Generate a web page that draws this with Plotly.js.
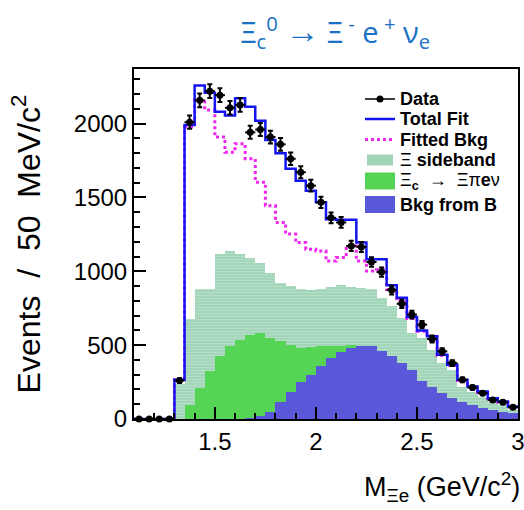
<!DOCTYPE html>
<html>
<head>
<meta charset="utf-8">
<script src="https://cdn.plot.ly/plotly-3.0.1.min.js"></script>
<style>html,body{margin:0;padding:0;background:#fff;}#chart{width:524px;height:510px;}</style>
</head>
<body>
<div id="chart"></div>
<script>
// Bin centers (50 MeV bins) in GeV/c^2
const binCenters = [1.125,1.175,1.225,1.275,1.325,1.375,1.425,1.475,1.525,1.575,
  1.625,1.675,1.725,1.775,1.825,1.875,1.925,1.975,2.025,2.075,
  2.125,2.175,2.225,2.275,2.325,2.375,2.425,2.475,2.525,2.575,
  2.625,2.675,2.725,2.775,2.825,2.875,2.925,2.975];

const dataCounts = [0,0,0,0,260,2010,2158,2220,2193,2107,
  2127,1941,1960,1909,1860,1762,1671,1580,1467,1362,
  1331,1172,1165,1063,995,873,780,707,639,542,
  458,379,265,213,175,129,114,80];

const totalFit = [0,0,0,0,265,1990,2258,2210,2080,2055,
  2172,2115,2020,1890,1800,1695,1614,1546,1467,1352,
  1349,1349,1195,1082,1082,905,821,690,600,560,
  435,367,265,220,186,141,118,84];

const fittedBkg = [0,0,0,0,265,1977,2160,2093,1909,1807,
  1864,1762,1603,1444,1331,1252,1195,1150,1138,1070,
  1093,1172,1070,1002,1010,877,798,680,595,555,
  430,362,260,215,180,137,113,80];

const xiSideband = [0,0,0,0,240,678,882,882,1116,1138,
  1116,1093,1059,991,923,900,877,875,880,895,
  905,895,889,877,821,764,685,583,549,469,
  379,333,220,186,152,118,95,61];

const xicXiPiEnu = [0,0,0,0,0,95,209,325,424,492,
  537,571,583,549,526,503,481,488,492,492,
  495,503,470,410,345,285,220,160,110,70,
  40,20,10,0,0,0,0,0];

const bkgFromB = [0,0,0,0,0,0,0,0,0,0,
  3,8,20,50,115,185,250,300,360,413,
  455,481,492,492,458,424,379,333,254,220,
  175,141,118,95,73,61,50,39];

const xTickVals = [1.5, 2, 2.5, 3];
const xTickText = ['1.5', '2', '2.5', '3'];
const yTickVals = [0, 500, 1000, 1500, 2000];
const yTickText = ['0', '500', '1000', '1500', '2000'];

const legendLabels = ['<b>Data</b>', '<b>Total Fit</b>', '<b>Fitted Bkg</b>',
  'Ξ <b>sideband</b>', 'Ξ<sub><b>c</b></sub>  →  Ξπ<b>e</b>ν', '<b>Bkg from B</b>'];

// colours
const C_SIDE = '#a3d6b9', C_GREEN = '#55d455', C_BLUE = '#5b57d9', C_FIT = '#1414f0', C_BKG = '#f026f0';

// step-line helpers (bin edges built from the centers)
const binW = binCenters[1] - binCenters[0];
function stepX(c) { const e = c.map(v => v - binW / 2); e.push(c[c.length - 1] + binW / 2); return e; }
function stepY(v) { return v.concat([v[v.length - 1]]); }

const FONT = 'Liberation Sans, Arial, Helvetica, sans-serif';
const W = 524, H = 510, M = { l: 134, r: 6, t: 69, b: 91 };
const PW = W - M.l - M.r, PH = H - M.t - M.b;
const px = v => (v - M.l) / PW;      // pixel -> paper x
const py = v => (H - M.b - v) / PH;  // pixel -> paper y

const traces = [
  {
    type: 'bar', name: legendLabels[3], x: binCenters, y: xiSideband, width: binW,
    marker: { color: C_SIDE, line: { width: 0 },
      pattern: { shape: '-', fillmode: 'overlay', fgcolor: '#cdeadb', size: 3, solidity: 0.3 } },
    showlegend: false, hoverinfo: 'skip'
  },
  {
    type: 'bar', name: legendLabels[4], x: binCenters, y: xicXiPiEnu, width: binW,
    marker: { color: C_GREEN, line: { width: 0 } }, showlegend: false, hoverinfo: 'skip'
  },
  {
    type: 'bar', name: legendLabels[5], x: binCenters, y: bkgFromB, width: binW,
    marker: { color: C_BLUE, line: { width: 0 } }, showlegend: false, hoverinfo: 'skip'
  },
  {
    type: 'scatter', mode: 'lines', name: legendLabels[2], x: stepX(binCenters), y: stepY(fittedBkg),
    line: { shape: 'hv', color: C_BKG, width: 3, dash: 'dot' }, showlegend: false
  },
  {
    type: 'scatter', mode: 'lines', name: legendLabels[1], x: stepX(binCenters), y: stepY(totalFit),
    line: { shape: 'hv', color: C_FIT, width: 2.5 }, showlegend: false
  },
  {
    type: 'scatter', mode: 'markers', name: legendLabels[0], x: binCenters, y: dataCounts,
    marker: { color: '#000', size: 7 }, cliponaxis: false,
    error_y: { type: 'sqrt', color: '#000', thickness: 2, width: 2.5 },
    error_x: { type: 'constant', value: binW / 2, color: '#000', thickness: 2, width: 0 },
    showlegend: false
  }
];

// manual legend (ROOT style)
const rowY = [99, 119, 139.5, 160, 181, 204.5];
const symX0 = 365, symX1 = 395, textX = 399;
const shapes = [
  { type: 'line', xref: 'paper', yref: 'paper', x0: px(symX0), x1: px(symX1), y0: py(rowY[0]), y1: py(rowY[0]), line: { color: '#000', width: 1.5 } },
  { type: 'circle', xref: 'paper', yref: 'paper', x0: px(376.5), x1: px(383.5), y0: py(rowY[0] - 3.5), y1: py(rowY[0] + 3.5), fillcolor: '#000', line: { color: '#000', width: 0 } },
  { type: 'line', xref: 'paper', yref: 'paper', x0: px(symX0), x1: px(symX1), y0: py(rowY[1]), y1: py(rowY[1]), line: { color: C_FIT, width: 2.5 } },
  { type: 'line', xref: 'paper', yref: 'paper', x0: px(symX0), x1: px(symX1), y0: py(rowY[2]), y1: py(rowY[2]), line: { color: C_BKG, width: 3, dash: 'dot' } },
  { type: 'rect', xref: 'paper', yref: 'paper', x0: px(367), x1: px(393), y0: py(rowY[3] - 5.5), y1: py(rowY[3] + 5.5), fillcolor: C_SIDE, line: { width: 0 } },
  { type: 'rect', xref: 'paper', yref: 'paper', x0: px(symX0), x1: px(symX1), y0: py(rowY[4] - 8.5), y1: py(rowY[4] + 8.5), fillcolor: C_GREEN, line: { width: 0 } },
  { type: 'rect', xref: 'paper', yref: 'paper', x0: px(symX0), x1: px(symX1), y0: py(rowY[5] - 8.5), y1: py(rowY[5] + 8.5), fillcolor: C_BLUE, line: { width: 0 } }
];
const annotations = legendLabels.map((t, i) => ({
  text: t, xref: 'paper', yref: 'paper', x: px(textX), y: py(rowY[i]),
  xanchor: 'left', yanchor: 'middle', showarrow: false, borderpad: 0,
  font: { family: FONT, size: 18, color: '#000' }
}));
annotations.push({
  text: 'M<sub>Ξe</sub> (GeV/c<sup>2</sup>)', xref: 'paper', yref: 'paper',
  x: 1, xanchor: 'right', xshift: 4, y: -0.195, yanchor: 'middle',
  showarrow: false, font: { family: FONT, size: 27, color: '#000' }
});

const NB = '\u00a0';
const layout = {
  width: W, height: H,
  margin: M,
  paper_bgcolor: '#fff', plot_bgcolor: '#fff',
  barmode: 'overlay', bargap: 0,
  showlegend: false,
  title: {
    text: 'Ξ<sub>c</sub><sup>0</sup> <span style="font-size:34px"><b>→</b></span> Ξ<sup> -</sup> e<sup> +</sup> ν<sub>e</sub>',
    font: { family: 'Open Sans, Noto Sans, sans-serif', size: 29, color: '#1a72c4' },
    x: 0.64, xanchor: 'center', xref: 'container',
    y: 0.935, yanchor: 'middle', yref: 'container'
  },
  xaxis: {
    range: [1.1, 3.0], tickvals: xTickVals, ticktext: xTickText,
    ticks: 'inside', ticklen: 12, tickwidth: 2, tickcolor: '#000',
    minor: { dtick: 0.1, tick0: 0, ticks: 'inside', ticklen: 6, tickwidth: 2, tickcolor: '#000', showgrid: false },
    showline: true, linewidth: 2, linecolor: '#000', mirror: true,
    showgrid: false, zeroline: false, ticklabelstandoff: 0, ticklabeloverflow: 'allow',
    tickfont: { family: FONT, size: 24, color: '#000' }
  },
  yaxis: {
    range: [0, 2370], tickvals: yTickVals, ticktext: yTickText,
    ticks: 'inside', ticklen: 12, tickwidth: 2, tickcolor: '#000',
    minor: { dtick: 100, tick0: 0, ticks: 'inside', ticklen: 6, tickwidth: 2, tickcolor: '#000', showgrid: false },
    showline: true, linewidth: 2, linecolor: '#000', mirror: true,
    showgrid: false, zeroline: false, ticklabeloverflow: 'allow',
    tickfont: { family: FONT, size: 24, color: '#000' },
    title: { text: 'Events' + NB + NB + '/' + NB + NB + '50' + NB + NB + 'MeV/c<sup>2</sup>', font: { family: FONT, size: 32, color: '#000' }, standoff: 24 }
  },
  shapes: shapes,
  annotations: annotations
};

Plotly.newPlot('chart', traces, layout, { displayModeBar: false, staticPlot: true });
</script>
</body>
</html>
